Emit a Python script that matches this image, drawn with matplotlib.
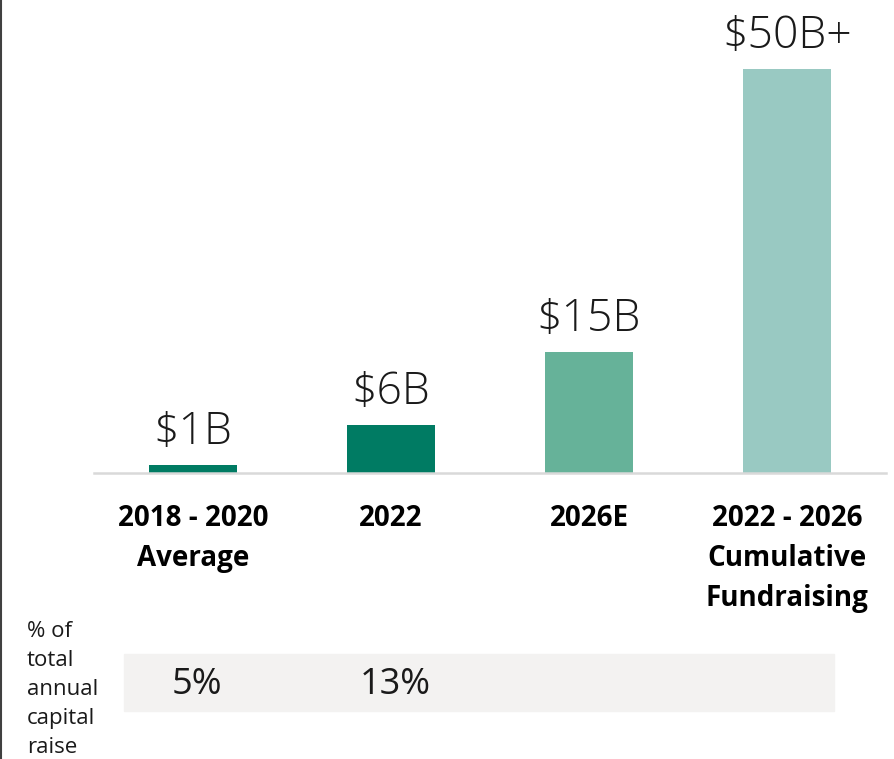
import matplotlib
matplotlib.use('Agg')
import matplotlib.pyplot as plt
import matplotlib.transforms as mtransforms
from matplotlib.patches import Rectangle
from matplotlib.lines import Line2D

#-----------------------------------------------------------------------------

categories = ['2018 - 2020\nAverage', '2022', '2026E', '2022 - 2026\nCumulative\nFundraising']
values = [1, 6, 15, 50]  # $B
value_labels = ['$1B', '$6B', '$15B', '$50B+']
share_labels = ['5%', '13%', '', '']
share_title = '% of\ntotal\nannual\ncapital\nraise'
colors = ['#007B63', '#007B63', '#66B299', '#99C9C2']

#-----------------------------------------------------------------------------

W, H = 894, 759
fig = plt.figure(figsize=(W / 100, H / 100), dpi=100)

# axes placed in pixel coords: baseline at y=473, spans x 94..886
ax = fig.add_axes([94 / W, 1 - 473 / H, 792 / W, 473 / H])
x = list(range(len(values)))
ax.bar(x, values, width=0.444, color=colors)
ax.set_xlim(-0.5, 3.5)
ax.set_ylim(0, 473 / 8.08)
for s in ['top', 'right', 'left']:
    ax.spines[s].set_visible(False)
ax.spines['bottom'].set_color('#D9D9D9')
ax.spines['bottom'].set_linewidth(1.8)
ax.set_yticks([])
ax.set_xticks(x)
ax.set_xticklabels(categories, fontsize=20, fontweight='bold', family='Open Sans',
                   linespacing=1.5, va='top')
ax.tick_params(axis='x', length=0, pad=22)

for xi, v, lab in zip(x, values, value_labels):
    ax.annotate(lab, (xi, v), xytext=(0, 21), textcoords='offset pixels',
                ha='center', va='baseline', fontsize=32, family='Open Sans',
                fontweight='light', color='#1a1a1a')

# share of capital raise band
fig.patches.append(Rectangle((124 / W, 1 - 711 / H), 710 / W, 57 / H,
                             transform=fig.transFigure, color='#F3F2F1', zorder=0))
tr = mtransforms.blended_transform_factory(ax.transData, fig.transFigure)
for xi, lab in zip(x, share_labels):
    if lab:
        fig.text(xi + 0.02, 1 - 685 / H, lab, transform=tr, ha='center', va='center',
                 fontsize=26, family='Open Sans', color='#1a1a1a')

fig.text(27 / W, 1 - 621 / H, share_title, ha='left', va='top', fontsize=16,
         family='Open Sans', linespacing=1.5, color='#1a1a1a')

# left border
fig.add_artist(Line2D([1 / W, 1 / W], [0, 1], transform=fig.transFigure,
                      color='#404040', linewidth=1.5))

fig.savefig('out.png', dpi=100)
